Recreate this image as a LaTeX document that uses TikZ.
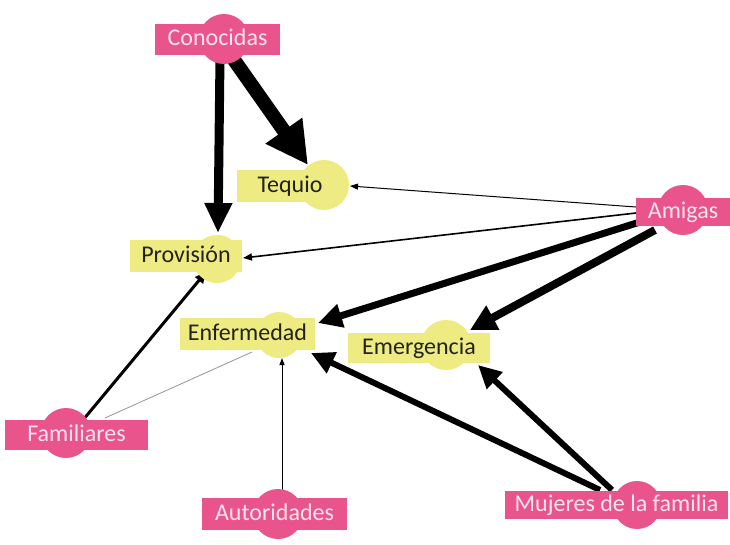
\documentclass[tikz,border=0pt]{standalone}
\usepackage{fontspec}
\setmainfont{Carlito}
\usetikzlibrary{arrows.meta,calc}
\definecolor{pk}{RGB}{234,84,140}
\definecolor{yl}{RGB}{237,235,130}
\definecolor{pktxt}{RGB}{252,228,236}
\definecolor{yltxt}{RGB}{35,35,25}
\definecolor{thin}{RGB}{150,150,140}
\pgfdeclarelayer{back}\pgfdeclarelayer{bg}\pgfsetlayers{back,bg,main}
\begin{document}
\begin{tikzpicture}[x=1pt,y=-1pt,
  boxbase/.style={inner sep=0pt,text height=16pt,text depth=4pt,font=\fontsize{24}{24}\selectfont},
  pkbox/.style={boxbase,fill=pk,text=pktxt},
  ylbox/.style={boxbase,fill=yl,text=yltxt},
  pkdot/.style={circle,fill=pk,inner sep=0pt},
  yldot/.style={circle,fill=yl,inner sep=0pt},
  link/.style={draw=black}]
\begin{pgfonlayer}{back}
\fill[white] (0,0) rectangle (730,544);
\end{pgfonlayer}
\useasboundingbox (0,0) rectangle (730,544);
% circles
\node[pkdot,minimum size=50pt] (conC) at (224,39) {};
\node[yldot,minimum size=50pt] (teqC) at (324,185) {};
\node[yldot,minimum size=48pt] (provC) at (217,259) {};
\node[yldot,minimum size=46pt] (enfC) at (279,335) {};
\node[yldot,minimum size=50pt] (emeC) at (446,345) {};
\node[pkdot,minimum size=50pt] (amiC) at (683,210) {};
\node[pkdot,minimum size=50pt] (famC) at (66,433) {};
\node[pkdot,minimum size=50pt] (autC) at (278,514) {};
\node[pkdot,minimum size=48pt] (mujC) at (637,505) {};
% boxes
\node[pkbox,minimum width=125pt,minimum height=31pt] (con) at (217.5,39.5) {Conocidas};
\node[ylbox,minimum width=106pt,minimum height=32pt] (teq) at (290,186) {Tequio};
\node[ylbox,minimum width=112pt,minimum height=32pt] (prov) at (186,256) {Provisión};
\node[ylbox,minimum width=135pt,minimum height=32pt] (enf) at (247.5,334) {Enfermedad};
\node[ylbox,minimum width=142pt,minimum height=30pt] (eme) at (419,348) {Emergencia};
\node[pkbox,minimum width=94pt,minimum height=28pt] (ami) at (683,212) {Amigas};
\node[pkbox,minimum width=143pt,minimum height=30pt] (fam) at (76.5,435) {Familiares};
\node[pkbox,minimum width=145pt,minimum height=32pt] (aut) at (274.5,514) {Autoridades};
\node[pkbox,minimum width=223pt,minimum height=28pt] (muj) at (616.5,505) {Mujeres de la familia};
% connectors
\begin{pgfonlayer}{bg}
\draw[link,line width=14pt,-{Triangle[length=42pt,width=42pt]}] ($(conC)+(8,18)$) -- ($(teqC)+(-16,-20)$);
\draw[link,line width=9pt,-{Triangle[length=30pt,width=26pt]}] ($(conC)+(-4,18)$) -- ($(provC)+(1,-26)$);
\draw[link,line width=1pt,-{Triangle[length=8pt,width=6pt]}] ($(ami)+(-47,-5)$) -- ($(teqC)+(26,1)$);
\draw[link,line width=1.6pt,-{Triangle[length=9pt,width=7pt]}] ($(ami)+(-47,1)$) -- ($(provC)+(26,-1)$);
\draw[link,line width=7pt,-{Triangle[length=24pt,width=23pt]}] ($(ami)+(-43,10)$) -- ($(enfC)+(39,-12)$);
\draw[link,line width=8pt,-{Triangle[length=26pt,width=26pt]}] ($(ami)+(-28,18)$) -- ($(emeC)+(24,-15)$);
\draw[link,line width=6pt,-{Triangle[length=23pt,width=22pt]}] ($(mujC)+(-37,-15)$) -- ($(enfC)+(32,18)$);
\draw[link,line width=6pt,-{Triangle[length=23pt,width=22pt]}] ($(mujC)+(-25,-15)$) -- ($(emeC)+(32,20)$);
\draw[link,line width=3pt,-{Triangle[length=11pt,width=10pt]}] ($(famC)+(17,-13)$) -- ($(provC)+(-11,13)$);
\draw[draw=thin,line width=0.8pt] ($(fam)+(28.5,-17)$) -- ($(enf)+(4.5,18)$);
\draw[link,line width=1pt,-{Triangle[length=7pt,width=5pt]}] ($(autC)+(4,-19)$) -- ($(enfC)+(3,23)$);
\end{pgfonlayer}
\end{tikzpicture}
\end{document}
